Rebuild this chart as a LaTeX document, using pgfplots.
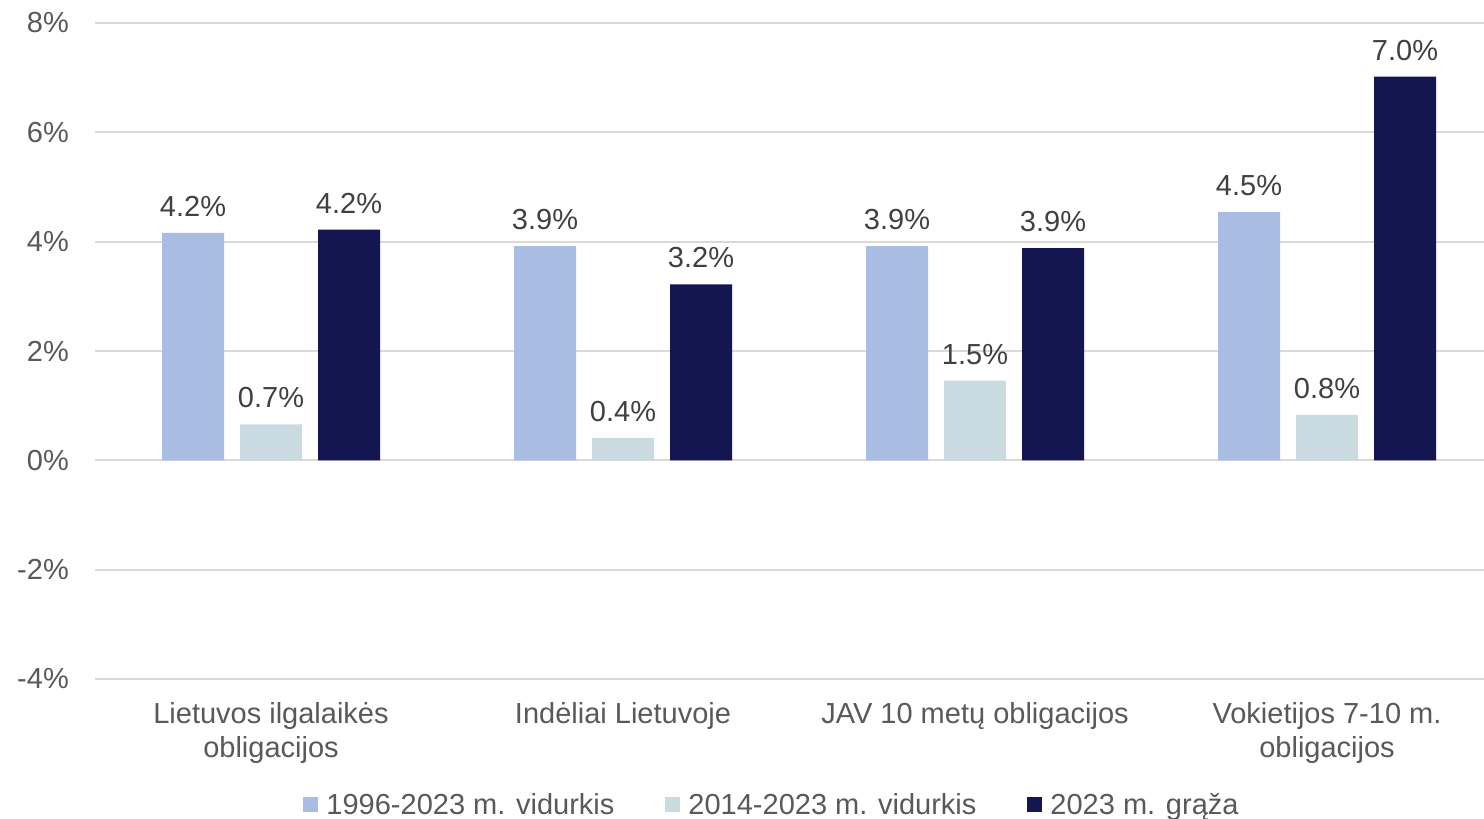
\documentclass[border=0pt]{standalone}
\usepackage{pgfplots}
\pgfplotsset{compat=1.18}
\usepackage{fontspec}
\setmainfont{Liberation Sans}
\definecolor{cA}{HTML}{A9BDE3}
\definecolor{cB}{HTML}{C9DBE0}
\definecolor{cC}{HTML}{131650}
\definecolor{gridc}{HTML}{D9D9D9}
\definecolor{tickc}{HTML}{595959}
\definecolor{valc}{HTML}{404040}
\begin{document}
\begin{tikzpicture}
\begin{axis}[
  at={(95pt,140pt)}, anchor=south west,
  scale only axis,
  width=1389pt, height=656pt,
  xmin=-0.5, xmax=3.446,
  ymin=-4, ymax=8,
  ybar=16pt, bar width=62pt,
  /pgf/number format/assume math mode=true,
  axis line style={draw=none},
  major tick length=0pt,
  ymajorgrids, grid style={gridc, line width=1.8pt},
  ytick={-4,-2,0,2,4,6,8},
  yticklabels={-4\%,-2\%,0\%,2\%,4\%,6\%,8\%},
  yticklabel style={font=\fontsize{29}{34}\selectfont, text=tickc, anchor=east, inner sep=0pt, xshift=-26pt},
  xtick={0,1,2,3},
  xticklabels={{Lietuvos ilgalaikės\\obligacijos},{Indėliai Lietuvoje},{JAV 10 metų obligacijos},{Vokietijos 7-10 m.\\obligacijos}},
  xticklabel style={font=\fontsize{29}{34}\selectfont, text=tickc, align=center, anchor=north, inner sep=0pt, yshift=-23pt},
  nodes near coords={\pgfmathprintnumber[fixed,fixed zerofill,precision=1]{\pgfplotspointmeta}\%},
  every node near coord/.append style={font=\fontsize{29}{34}\selectfont, text=valc, anchor=south, inner sep=0pt, yshift=16pt},
  legend columns=3,
  legend style={at={(0.4867,-0.192)}, anchor=center, draw=none, fill=none,
    font=\fontsize{29}{34}\selectfont, text=tickc, inner sep=0pt,
    nodes={inner sep=0pt, anchor=west},
    /tikz/every odd column/.append style={column sep=8pt},
    /tikz/every even column/.append style={column sep=51pt}},
  legend image code/.code={\fill[#1] (0pt,-7.5pt) rectangle (15pt,7.5pt);},
]
\addplot[fill=cA, draw=none] coordinates {(0,4.16) (1,3.92) (2,3.92) (3,4.54)};
\addplot[fill=cB, draw=none] coordinates {(0,0.66) (1,0.41) (2,1.46) (3,0.83)};
\addplot[fill=cC, draw=none] coordinates {(0,4.22) (1,3.22) (2,3.88) (3,7.02)};
\legend{1996-2023 m. vidurkis,2014-2023 m. vidurkis,2023 m. grąža}
\end{axis}
\pgfresetboundingbox
\path (0pt,0pt) rectangle (1484pt,819pt);
\end{tikzpicture}
\end{document}
